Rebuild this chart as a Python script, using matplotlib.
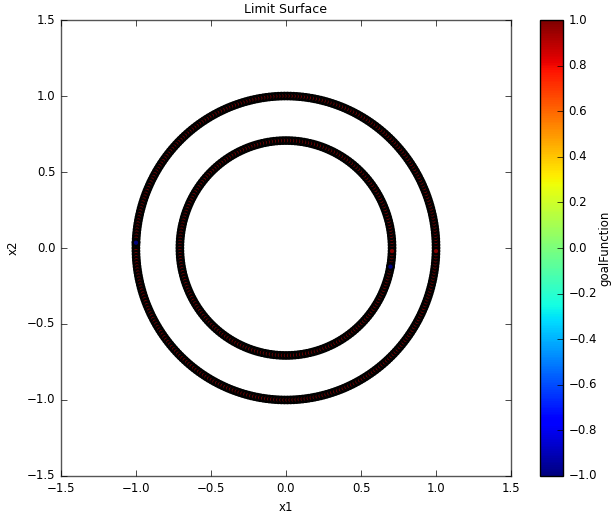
import numpy as np
import matplotlib
matplotlib.use("Agg")
import matplotlib.pyplot as plt

# limit surface samples: two rings, goalFunction mostly at +1
ring_radii = [1.0, 0.707]
ring_counts = [310, 220]
ring_goal = [1.0, 1.0]
# a few samples that came out at -1 (angle in degrees, ring index)
blue_angles = [178.0, -10.0]
blue_rings = [0, 1]

plt.style.use("classic")
plt.rcParams["font.size"] = 8.5
plt.rcParams["font.family"] = ["DejaVu Sans"]

xs, ys, cs = [], [], []
for r, n, g in zip(ring_radii, ring_counts, ring_goal):
    t = np.linspace(0, 2 * np.pi, n, endpoint=False)
    xs.append(r * np.cos(t))
    ys.append(r * np.sin(t))
    cs.append(np.full(n, g))
for a, ri in zip(blue_angles, blue_rings):
    r = ring_radii[ri]
    xs.append([r * np.cos(np.radians(a))])
    ys.append([r * np.sin(np.radians(a))])
    cs.append([-1.0])
x = np.concatenate(xs)
y = np.concatenate(ys)
c = np.concatenate(cs)

fig = plt.figure(figsize=(6.15, 5.14), dpi=100, facecolor="white")
ax = fig.add_axes([0.099, 0.074, 0.732, 0.887])
cax = fig.add_axes([0.878, 0.074, 0.037, 0.887])

sc = ax.scatter(x, y, c=c, cmap="jet", vmin=-1, vmax=1, s=22,
                edgecolors="black", linewidths=1.6)
ax.set_xlim(-1.5, 1.5)
ax.set_ylim(-1.5, 1.5)
ax.set_xticks(np.arange(-1.5, 1.51, 0.5))
ax.set_yticks(np.arange(-1.5, 1.51, 0.5))
ax.set_title("Limit Surface", fontsize=9)
ax.set_xlabel("x1")
ax.set_ylabel("x2")
for sp in ax.spines.values():
    sp.set_color("#555555")

cb = fig.colorbar(sc, cax=cax)
cb.set_ticks(np.arange(-1.0, 1.01, 0.2))
cb.set_label("goalFunction", labelpad=1)

fig.savefig("out.png", dpi=100, facecolor="white")
